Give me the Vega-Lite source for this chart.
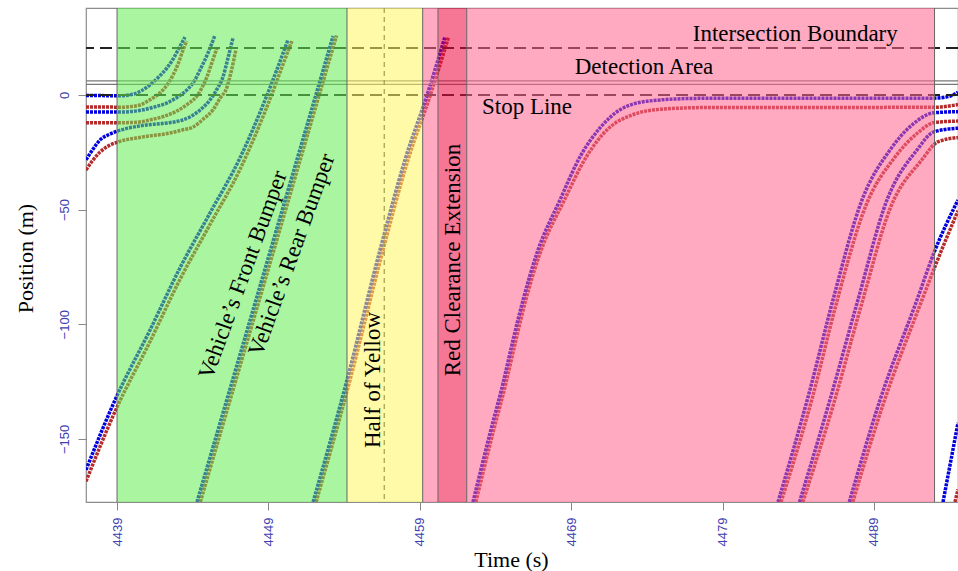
{
  "$schema": "https://vega.github.io/schema/vega-lite/v6.json",
  "width": 872,
  "height": 494,
  "autosize": {"type": "none"},
  "padding": {"left": 86, "top": 8, "right": 0, "bottom": 69},
  "background": "white",
  "config": {
    "view": {"stroke": "#8c8c8c", "strokeWidth": 1.2},
    "font": "Liberation Serif",
    "axis": {"grid": false, "domain": false, "tickColor": "#888888", "tickSize": 8, "labelFont": "Liberation Sans", "labelFontSize": 13, "labelColor": "#4040b0", "titleFont": "Liberation Serif", "titleFontSize": 22, "titleFontWeight": "normal", "titleColor": "#000000"}
  },
  "datasets": {
    "traj": [
      {"v":"A","b":"front","t":4436.95,"p":-0.3},{"v":"A","b":"front","t":4438.0,"p":-0.3},{"v":"A","b":"front","t":4439.1,"p":-0.4},{"v":"A","b":"front","t":4440.06,"p":0.3},{"v":"A","b":"front","t":4440.6,"p":1.8},{"v":"A","b":"front","t":4441.18,"p":4.4},{"v":"A","b":"front","t":4441.75,"p":7.8},{"v":"A","b":"front","t":4442.3,"p":11.8},{"v":"A","b":"front","t":4442.7,"p":15.6},{"v":"A","b":"front","t":4443.03,"p":19.6},{"v":"A","b":"front","t":4443.49,"p":25.2},
      {"v":"A","b":"rear","t":4436.95,"p":-5.3},{"v":"A","b":"rear","t":4438.5,"p":-5.3},{"v":"A","b":"rear","t":4439.3,"p":-5.4},{"v":"A","b":"rear","t":4440.0,"p":-5.0},{"v":"A","b":"rear","t":4440.52,"p":-4.4},{"v":"A","b":"rear","t":4441.2,"p":-2.0},{"v":"A","b":"rear","t":4441.84,"p":0.9},{"v":"A","b":"rear","t":4442.3,"p":4.3},{"v":"A","b":"rear","t":4442.7,"p":8.7},{"v":"A","b":"rear","t":4443.05,"p":13.8},{"v":"A","b":"rear","t":4443.36,"p":19.6},{"v":"A","b":"rear","t":4443.6,"p":23.5},
      {"v":"B","b":"front","t":4436.95,"p":-7.4},{"v":"B","b":"front","t":4439.07,"p":-7.5},{"v":"B","b":"front","t":4440.0,"p":-7.2},{"v":"B","b":"front","t":4440.72,"p":-6.5},{"v":"B","b":"front","t":4441.5,"p":-5.2},{"v":"B","b":"front","t":4442.3,"p":-3.5},{"v":"B","b":"front","t":4443.0,"p":-0.9},{"v":"B","b":"front","t":4443.62,"p":2.2},{"v":"B","b":"front","t":4444.1,"p":6.0},{"v":"B","b":"front","t":4444.48,"p":10.9},{"v":"B","b":"front","t":4445.01,"p":18.3},{"v":"B","b":"front","t":4445.45,"p":25.7},
      {"v":"B","b":"rear","t":4436.95,"p":-12.1},{"v":"B","b":"rear","t":4439.5,"p":-12.1},{"v":"B","b":"rear","t":4440.5,"p":-11.8},{"v":"B","b":"rear","t":4441.18,"p":-10.9},{"v":"B","b":"rear","t":4442.1,"p":-9.3},{"v":"B","b":"rear","t":4442.96,"p":-7.0},{"v":"B","b":"rear","t":4443.7,"p":-3.8},{"v":"B","b":"rear","t":4444.28,"p":-0.4},{"v":"B","b":"rear","t":4444.94,"p":7.9},{"v":"B","b":"rear","t":4445.34,"p":15.5},{"v":"B","b":"rear","t":4445.6,"p":20.5},
      {"v":"C","b":"front","t":4436.95,"p":-28.3},{"v":"C","b":"front","t":4437.4,"p":-23.8},{"v":"C","b":"front","t":4437.88,"p":-19.6},{"v":"C","b":"front","t":4438.5,"p":-17.2},{"v":"C","b":"front","t":4439.07,"p":-15.7},{"v":"C","b":"front","t":4440.52,"p":-13.5},{"v":"C","b":"front","t":4442.3,"p":-12.2},{"v":"C","b":"front","t":4443.2,"p":-11.2},{"v":"C","b":"front","t":4443.82,"p":-9.6},{"v":"C","b":"front","t":4444.5,"p":-6.5},{"v":"C","b":"front","t":4445.14,"p":-2.2},{"v":"C","b":"front","t":4445.6,"p":2.5},{"v":"C","b":"front","t":4446.0,"p":7.9},{"v":"C","b":"front","t":4446.33,"p":16.1},{"v":"C","b":"front","t":4446.66,"p":24.9},
      {"v":"C","b":"rear","t":4436.95,"p":-32.7},{"v":"C","b":"rear","t":4437.4,"p":-28.5},{"v":"C","b":"rear","t":4437.88,"p":-24.9},{"v":"C","b":"rear","t":4438.5,"p":-22.0},{"v":"C","b":"rear","t":4439.07,"p":-20.5},{"v":"C","b":"rear","t":4440.72,"p":-18.3},{"v":"C","b":"rear","t":4442.5,"p":-16.6},{"v":"C","b":"rear","t":4443.3,"p":-15.3},{"v":"C","b":"rear","t":4444.02,"p":-14.0},{"v":"C","b":"rear","t":4444.7,"p":-10.5},{"v":"C","b":"rear","t":4445.34,"p":-6.5},{"v":"C","b":"rear","t":4445.8,"p":-1.5},{"v":"C","b":"rear","t":4446.27,"p":3.5},{"v":"C","b":"rear","t":4446.55,"p":10.5},{"v":"C","b":"rear","t":4446.85,"p":19.6},
      {"v":"D","b":"front","t":4436.95,"p":-163.5},{"v":"D","b":"front","t":4438.87,"p":-133.0},{"v":"D","b":"front","t":4441.18,"p":-102.5},{"v":"D","b":"front","t":4443.16,"p":-75.4},{"v":"D","b":"front","t":4445.14,"p":-51.5},{"v":"D","b":"front","t":4447.12,"p":-27.5},{"v":"D","b":"front","t":4448.78,"p":-2.2},{"v":"D","b":"front","t":4450.29,"p":24.0},
      {"v":"D","b":"rear","t":4436.95,"p":-168.5},{"v":"D","b":"rear","t":4438.87,"p":-138.0},{"v":"D","b":"rear","t":4441.18,"p":-107.5},{"v":"D","b":"rear","t":4443.16,"p":-80.4},{"v":"D","b":"rear","t":4445.14,"p":-56.5},{"v":"D","b":"rear","t":4447.12,"p":-32.5},{"v":"D","b":"rear","t":4448.78,"p":-7.2},{"v":"D","b":"rear","t":4450.29,"p":19.0},{"v":"D","b":"rear","t":4450.55,"p":23.5},
      {"v":"E","b":"front","t":4444.28,"p":-177.5},{"v":"E","b":"front","t":4446.5,"p":-127.3},{"v":"E","b":"front","t":4449.0,"p":-70.8},{"v":"E","b":"front","t":4451.5,"p":-14.3},{"v":"E","b":"front","t":4453.27,"p":25.7},
      {"v":"E","b":"rear","t":4444.5,"p":-177.5},{"v":"E","b":"rear","t":4446.72,"p":-127.3},{"v":"E","b":"rear","t":4449.22,"p":-70.8},{"v":"E","b":"rear","t":4451.72,"p":-14.3},{"v":"E","b":"rear","t":4453.5,"p":25.9},
      {"v":"F","b":"front","t":4451.95,"p":-177.5},{"v":"F","b":"front","t":4454.19,"p":-124.3},{"v":"F","b":"front","t":4456.37,"p":-67.6},{"v":"F","b":"front","t":4458.02,"p":-28.3},{"v":"F","b":"front","t":4459.48,"p":0.0},{"v":"F","b":"front","t":4460.66,"p":25.3},
      {"v":"F","b":"rear","t":4452.15,"p":-177.5},{"v":"F","b":"rear","t":4454.39,"p":-124.3},{"v":"F","b":"rear","t":4456.57,"p":-67.6},{"v":"F","b":"rear","t":4458.22,"p":-28.3},{"v":"F","b":"rear","t":4459.7,"p":0.0},{"v":"F","b":"rear","t":4460.9,"p":25.3},
      {"v":"G","b":"front","t":4462.51,"p":-177.5},{"v":"G","b":"front","t":4463.64,"p":-147.4},{"v":"G","b":"front","t":4464.5,"p":-125.6},{"v":"G","b":"front","t":4465.16,"p":-106.8},{"v":"G","b":"front","t":4465.82,"p":-89.4},{"v":"G","b":"front","t":4466.74,"p":-68.9},{"v":"G","b":"front","t":4468.26,"p":-45.8},{"v":"G","b":"front","t":4469.58,"p":-27.0},{"v":"G","b":"front","t":4470.9,"p":-14.4},{"v":"G","b":"front","t":4472.22,"p":-6.5},{"v":"G","b":"front","t":4474.2,"p":-2.6},{"v":"G","b":"front","t":4477.5,"p":-1.5},{"v":"G","b":"front","t":4493.0,"p":-1.4},{"v":"G","b":"front","t":4494.0,"p":-0.6},{"v":"G","b":"front","t":4494.55,"p":1.2},
      {"v":"G","b":"rear","t":4462.7,"p":-177.5},{"v":"G","b":"rear","t":4463.83,"p":-147.4},{"v":"G","b":"rear","t":4464.69,"p":-125.6},{"v":"G","b":"rear","t":4465.35,"p":-106.8},{"v":"G","b":"rear","t":4466.0,"p":-89.4},{"v":"G","b":"rear","t":4466.95,"p":-68.9},{"v":"G","b":"rear","t":4468.55,"p":-45.8},{"v":"G","b":"rear","t":4470.0,"p":-27.0},{"v":"G","b":"rear","t":4471.5,"p":-14.4},{"v":"G","b":"rear","t":4473.0,"p":-8.8},{"v":"G","b":"rear","t":4475.0,"p":-6.2},{"v":"G","b":"rear","t":4478.0,"p":-5.5},{"v":"G","b":"rear","t":4493.0,"p":-5.4},{"v":"G","b":"rear","t":4494.55,"p":-4.2},
      {"v":"H","b":"front","t":4482.66,"p":-177.5},{"v":"H","b":"front","t":4484.77,"p":-128.6},{"v":"H","b":"front","t":4486.29,"p":-89.4},{"v":"H","b":"front","t":4488.21,"p":-45.8},{"v":"H","b":"front","t":4490.06,"p":-24.0},{"v":"H","b":"front","t":4491.51,"p":-13.1},{"v":"H","b":"front","t":4492.96,"p":-7.8},{"v":"H","b":"front","t":4494.55,"p":-7.3},
      {"v":"H","b":"rear","t":4482.86,"p":-177.5},{"v":"H","b":"rear","t":4484.97,"p":-131.0},{"v":"H","b":"rear","t":4486.49,"p":-91.5},{"v":"H","b":"rear","t":4488.45,"p":-48.5},{"v":"H","b":"rear","t":4490.4,"p":-27.0},{"v":"H","b":"rear","t":4491.9,"p":-16.5},{"v":"H","b":"rear","t":4493.0,"p":-12.0},{"v":"H","b":"rear","t":4494.55,"p":-11.4},
      {"v":"I","b":"front","t":4484.08,"p":-177.5},{"v":"I","b":"front","t":4486.09,"p":-133.0},{"v":"I","b":"front","t":4487.94,"p":-89.4},{"v":"I","b":"front","t":4489.86,"p":-45.8},{"v":"I","b":"front","t":4491.84,"p":-24.0},{"v":"I","b":"front","t":4492.96,"p":-16.1},{"v":"I","b":"front","t":4494.55,"p":-14.5},
      {"v":"I","b":"rear","t":4484.3,"p":-177.5},{"v":"I","b":"rear","t":4486.3,"p":-135.5},{"v":"I","b":"rear","t":4488.15,"p":-92.0},{"v":"I","b":"rear","t":4490.1,"p":-49.0},{"v":"I","b":"rear","t":4492.2,"p":-28.0},{"v":"I","b":"rear","t":4493.2,"p":-20.5},{"v":"I","b":"rear","t":4494.55,"p":-18.6},
      {"v":"J","b":"front","t":4487.37,"p":-177.5},{"v":"J","b":"front","t":4489.4,"p":-133.0},{"v":"J","b":"front","t":4491.84,"p":-89.4},{"v":"J","b":"front","t":4492.96,"p":-68.9},{"v":"J","b":"front","t":4494.55,"p":-45.8},
      {"v":"J","b":"rear","t":4487.6,"p":-177.5},{"v":"J","b":"rear","t":4489.6,"p":-135.0},{"v":"J","b":"rear","t":4492.05,"p":-91.5},{"v":"J","b":"rear","t":4493.2,"p":-72.0},{"v":"J","b":"rear","t":4494.55,"p":-50.5},
      {"v":"K","b":"front","t":4493.56,"p":-177.5},{"v":"K","b":"front","t":4494.55,"p":-143.0},
      {"v":"K","b":"rear","t":4494.35,"p":-177.5},{"v":"K","b":"rear","t":4494.55,"p":-172.0}
    ],
    "phases": [
      {"phase":"green","t0":4439.0,"t1":4454.19},
      {"phase":"yellow","t0":4454.19,"t1":4459.19},
      {"phase":"red","t0":4459.19,"t1":4460.2},
      {"phase":"extension","t0":4460.2,"t1":4462.1},
      {"phase":"red","t0":4462.1,"t1":4493.0}
    ],
    "bounds": [{"t":4439.0},{"t":4454.19},{"t":4459.19},{"t":4460.2},{"t":4462.1},{"t":4493.0}],
    "dashedH": [{"name":"Intersection Boundary","p":20.5},{"name":"Stop Line","p":0.0}],
    "detection": [{"p":6.1},{"p":4.6}],
    "halfYellow": [{"t":4456.65}],
    "labelsH": [
      {"label":"Intersection Boundary","t":4483.8,"p":23.7},
      {"label":"Detection Area","t":4473.81,"p":9.16},
      {"label":"Stop Line","t":4466.08,"p":-8.4}
    ],
    "labelsV": [
      {"label":"Half of Yellow","t":4455.91,"p":-124.3},
      {"label":"Red Clearance Extension","t":4461.16,"p":-72.0}
    ],
    "labelsSlant": [
      {"label":"Vehicle’s Front Bumper","t":4447.32,"p":-78.5},
      {"label":"Vehicle’s Rear Bumper","t":4450.54,"p":-69.8}
    ]
  },
  "encoding": {
    "x": {"field": "t", "type": "quantitative", "scale": {"domain": [4436.95, 4494.55], "nice": false, "zero": false},
          "axis": {"title": "Time (s)", "values": [4439, 4449, 4459, 4469, 4479, 4489], "format": "d", "labelAngle": 270, "labelPadding": 7, "titleX": 425, "titleY": 64, "titleBaseline": "alphabetic", "titleAlign": "center"}},
    "y": {"field": "p", "type": "quantitative", "scale": {"domain": [-177.5, 37.9], "nice": false, "zero": false},
          "axis": {"title": "Position (m)", "values": [-150, -100, -50, 0], "labelAngle": 270, "labelPadding": 7, "titleX": -54, "titleY": 250, "titleAngle": 270, "titleBaseline": "alphabetic", "titleAlign": "center"}}
  },
  "layer": [
    {
      "data": {"name": "traj"},
      "transform": [{"filter": "datum.b === 'rear'"}],
      "mark": {"type": "line", "strokeWidth": 3.5, "strokeDash": [3, 1], "interpolate": "monotone", "clip": true, "color": "#b52a2a"},
      "encoding": {"detail": {"field": "v"}}
    },
    {
      "data": {"name": "traj"},
      "transform": [{"filter": "datum.b === 'front'"}],
      "mark": {"type": "line", "strokeWidth": 3.5, "strokeDash": [3, 1], "interpolate": "monotone", "clip": true, "color": "#0000dd"},
      "encoding": {"detail": {"field": "v"}}
    },
    {
      "data": {"name": "dashedH"},
      "mark": {"type": "rule", "strokeWidth": 2, "strokeDash": [12, 6], "color": "#222222"},
      "encoding": {"x": null, "y": {"field": "p", "type": "quantitative"}}
    },
    {
      "data": {"name": "detection"},
      "mark": {"type": "rule", "strokeWidth": 1.2, "color": "#777777"},
      "encoding": {"x": null, "y": {"field": "p", "type": "quantitative"}}
    },
    {
      "data": {"name": "halfYellow"},
      "mark": {"type": "rule", "strokeWidth": 1.2, "strokeDash": [5, 4], "color": "#333333"},
      "encoding": {"y": null}
    },
    {
      "data": {"name": "phases"},
      "mark": {"type": "rect", "fillOpacity": 0.55},
      "encoding": {
        "x": {"field": "t0", "type": "quantitative"},
        "x2": {"field": "t1"},
        "y": null,
        "fill": {"field": "phase", "type": "nominal", "legend": null,
                 "scale": {"domain": ["green", "yellow", "red", "extension"], "range": ["#64ed52", "#fff661", "#ff648c", "#ef0640"]}}
      }
    },
    {
      "data": {"name": "bounds"},
      "mark": {"type": "rule", "strokeWidth": 1, "color": "#666666"},
      "encoding": {"y": null}
    },
    {
      "data": {"name": "labelsH"},
      "mark": {"type": "text", "font": "Liberation Serif", "fontSize": 23, "align": "center", "baseline": "alphabetic", "color": "#000000"},
      "encoding": {"text": {"field": "label"}}
    },
    {
      "data": {"name": "labelsV"},
      "mark": {"type": "text", "font": "Liberation Serif", "fontSize": 23, "align": "center", "baseline": "middle", "angle": 270, "color": "#000000"},
      "encoding": {"text": {"field": "label"}}
    },
    {
      "data": {"name": "labelsSlant"},
      "mark": {"type": "text", "font": "Liberation Serif", "fontSize": 23, "align": "center", "baseline": "middle", "angle": 290, "color": "#000000"},
      "encoding": {"text": {"field": "label"}}
    }
  ]
}
